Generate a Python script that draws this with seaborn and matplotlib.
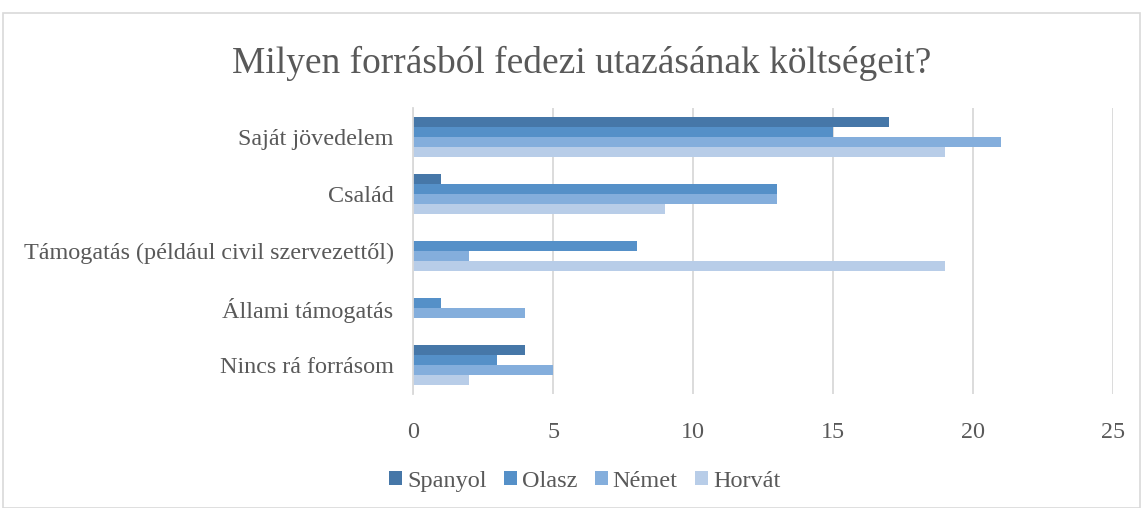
import pandas as pd
import matplotlib.pyplot as plt
import seaborn as sns
from matplotlib.patches import Rectangle

# Chart data
categories = ['Saját jövedelem', 'Család', 'Támogatás (például civil szervezettől)',
              'Állami támogatás', 'Nincs rá forrásom']
series = ['Spanyol', 'Olasz', 'Német', 'Horvát']
spanyol = [17, 1, 0, 0, 4]
olasz = [15, 13, 8, 1, 3]
nemet = [21, 13, 2, 4, 5]
horvat = [19, 9, 19, 0, 2]
x_ticks = [0, 5, 10, 15, 20, 25]

colors = ['#4677A8', '#5590C8', '#84AEDC', '#B8CDE8']

# Long format for seaborn
rows = []
for name, vals in zip(series, [spanyol, olasz, nemet, horvat]):
    for cat, v in zip(categories, vals):
        rows.append({'Kategória': cat, 'Ország': name, 'Érték': v})
df = pd.DataFrame(rows)

sns.set_style('white')
plt.rcParams['font.family'] = ['Liberation Serif', 'DejaVu Serif']
text_color = '#595959'

fig = plt.figure(figsize=(11.42, 5.08), dpi=100)
ax = fig.add_axes([0.3617, 0.2244, 0.6130, 0.5630])

sns.barplot(data=df, y='Kategória', x='Érték', hue='Ország', order=categories,
            hue_order=series, palette=colors, orient='h', width=0.7,
            saturation=1, linewidth=0, ax=ax, legend=True)

ax.set_xlim(0, 25)
ax.set_xticks(x_ticks)
ax.set_xlabel('')
ax.set_ylabel('')
ax.grid(axis='x', color='#D9D9D9', linewidth=1.3)
ax.set_axisbelow(True)
for s in ['top', 'right', 'bottom']:
    ax.spines[s].set_visible(False)
ax.spines['left'].set_color('#D9D9D9')
ax.spines['left'].set_linewidth(1.3)
ax.tick_params(axis='both', length=0, labelsize=17.4, colors=text_color)
ax.tick_params(axis='y', pad=14)
ax.tick_params(axis='x', pad=20)

fig.suptitle('Milyen forrásból fedezi utazásának költségeit?', y=0.91,
             fontsize=27, color=text_color, x=0.509)

handles, labels = ax.get_legend_handles_labels()
ax.get_legend().remove()
fig.legend(handles, labels, loc='center', bbox_to_anchor=(0.512, 0.053), ncol=4,
           frameon=False, fontsize=17.5, labelcolor=text_color, handlelength=0.55,
           handleheight=0.55, handletextpad=0.2, columnspacing=0.7)

# Outer chart border
fig.patches.append(Rectangle((0.003, 0.0), 0.995, 0.975, transform=fig.transFigure,
                             fill=False, edgecolor='#D9D9D9', linewidth=1.2))

fig.savefig('out.png', dpi=100)
